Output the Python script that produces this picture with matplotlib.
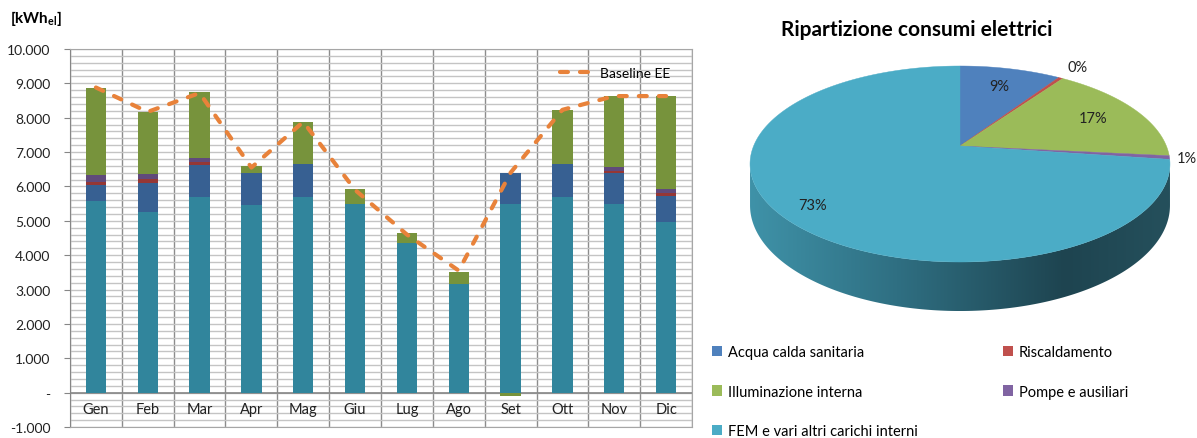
import numpy as np
import matplotlib
matplotlib.use('Agg')
import matplotlib.pyplot as plt
from matplotlib.patches import Polygon, Patch
from matplotlib.colors import LinearSegmentedColormap

plt.rcParams['font.family'] = ['Lato', 'DejaVu Sans']
plt.rcParams['mathtext.fontset'] = 'custom'
plt.rcParams['mathtext.rm'] = 'Lato'
plt.rcParams['mathtext.bf'] = 'Lato:bold'

# dati grafico a barre (kWh el mensili)
mesi = ['Gen', 'Feb', 'Mar', 'Apr', 'Mag', 'Giu', 'Lug', 'Ago', 'Set', 'Ott', 'Nov', 'Dic']
fem = [5580, 5270, 5690, 5470, 5690, 5480, 4360, 3150, 5480, 5700, 5480, 4970]
acqua_calda = [465, 830, 945, 920, 955, 0, 0, 0, 905, 945, 905, 755]
riscaldamento = [85, 110, 75, 0, 0, 0, 0, 0, 0, 0, 70, 70]
pompe = [195, 165, 110, 0, 0, 0, 0, 0, 0, 0, 115, 135]
illuminazione = [2530, 1795, 1925, 195, 1225, 435, 275, 360, -100, 1575, 2060, 2700]
baseline_ee = [8880, 8170, 8720, 6550, 7880, 5900, 4600, 3550, 6400, 8230, 8630, 8630]

# dati grafico a torta (%)
voci_torta = ['Acqua calda sanitaria', 'Riscaldamento', 'Illuminazione interna',
              'Pompe e ausiliari', 'FEM e vari altri carichi interni']
quote_torta = [9.3, 0.4, 16.9, 0.6, 72.8]

colori_barre = ['#31859C', '#376092', '#953735', '#604A7B', '#77933C']
colori_torta = ['#4F81BD', '#C0504D', '#9BBB59', '#8064A2', '#4BACC6']

W, H = 1197, 439


def fmt_it(v, pos=None):
    if abs(v) < 1e-9:
        return '-'
    return f'{v:,.0f}'.replace(',', '.')


def plot_barre(fig):
    ax = fig.add_axes([70 / W, 11 / H, 622 / W, 378 / H])
    x = np.arange(len(mesi))
    serie = [fem, acqua_calda, riscaldamento, pompe, illuminazione]
    pos_bottom = np.zeros(len(mesi))
    neg_bottom = np.zeros(len(mesi))
    for vals, col in zip(serie, colori_barre):
        vals = np.array(vals, dtype=float)
        bottom = np.where(vals >= 0, pos_bottom, neg_bottom)
        ax.bar(x, vals, width=0.39, bottom=bottom, color=col, zorder=3)
        pos_bottom += np.clip(vals, 0, None)
        neg_bottom += np.clip(vals, None, 0)

    ax.plot(x, baseline_ee, color='#E8823A', lw=3, dashes=(1.9, 2.9),
            dash_capstyle='round', label='Baseline EE', zorder=4)

    ax.set_xlim(-0.5, 11.5)
    ax.set_ylim(-1000, 10000)
    ax.set_yticks(np.arange(-1000, 10001, 1000))
    ax.set_yticks(np.arange(-1000, 10001, 200), minor=True)
    ax.yaxis.set_major_formatter(plt.FuncFormatter(fmt_it))
    ax.set_xticks(np.arange(-0.5, 12, 1))
    ax.set_xticklabels([])
    ax.tick_params(axis='x', length=0)
    ax.tick_params(axis='y', which='major', length=4, color='#868686',
                   labelsize=10, labelcolor='#222222', pad=10)
    ax.tick_params(axis='y', which='minor', length=0)
    ax.grid(axis='y', which='both', color='#C4C4C4', lw=1, zorder=0)
    ax.grid(axis='x', which='major', color='#8C8C8C', lw=1, zorder=0)
    ax.axhline(0, color='#868686', lw=1.2, zorder=2)
    for s in ax.spines.values():
        s.set_color('#A6A6A6')
    ax.spines['left'].set_color('#868686')

    for i, m in enumerate(mesi):
        ax.text(i, -480, m, ha='center', va='center', fontsize=10.5, color='#222222')

    ax.legend(loc='upper right', bbox_to_anchor=(0.985, 0.985), frameon=False,
              fontsize=10, handlelength=2.1, handletextpad=0.8)

    fig.text(10 / W, 1 - 18 / H, r'[kWh$_{\mathbf{el}}$]', fontsize=11,
             fontweight='bold', va='center')


def proietta(r, theta, cx=960, cy=147, a=94.7, b=206.4, k=0.1837):
    # proiezione prospettica del disco (theta da ore 12 in senso orario)
    s, c = np.sin(theta), np.cos(theta)
    den = 1 + k * r * c
    return cx + b * r * s / den, cy - a * r * c / den


def plot_torta(fig):
    ax = fig.add_axes([700 / W, 0, 497 / W, 1])
    ax.set_xlim(700, W)
    ax.set_ylim(H, 0)
    ax.axis('off')

    spessore = 40
    k = 0.1837
    # fianco del disco
    t0 = np.arccos(-k)
    t = np.linspace(t0, 2 * np.pi - t0, 200)
    xs, ys = proietta(1, t)
    d = spessore / (1 + k * np.cos(t))
    pts = np.vstack([np.column_stack([xs, ys]), np.column_stack([xs[::-1], (ys + d)[::-1]])])
    fianco = Polygon(pts, closed=True, facecolor='none', edgecolor='none')
    ax.add_patch(fianco)
    cmap = LinearSegmentedColormap.from_list('fianco', [(0, '#3F92A8'), (0.35, '#2F6F82'),
                                                        (0.75, '#1E4450'), (1, '#25505C')])
    grad = np.linspace(0, 1, 256).reshape(1, -1)
    im = ax.imshow(grad, cmap=cmap, extent=[xs.min(), xs.max(), (ys + d).max(), ys.min()],
                   aspect='auto', zorder=1)
    im.set_clip_path(fianco)

    # spicchi superiori
    tot = sum(quote_torta)
    inizio = 0.0
    raggi_etichette = [0.75, 1.2, 0.75, 1.08, 0.85]
    for q, col, rl in zip(quote_torta, colori_torta, raggi_etichette):
        a0 = inizio / tot * 2 * np.pi
        a1 = (inizio + q) / tot * 2 * np.pi
        tt = np.linspace(a0, a1, max(int(q * 4), 3))
        px, py = proietta(1, tt)
        cx0, cy0 = proietta(0, 0)
        poly = np.vstack([[cx0, cy0], np.column_stack([px, py])])
        ax.add_patch(Polygon(poly, closed=True, facecolor=col, edgecolor=col, lw=0.3, zorder=2))
        lx, ly = proietta(rl, (a0 + a1) / 2)
        ax.text(lx, ly, f'{round(q / tot * 100):.0f}%', ha='center', va='center',
                fontsize=10.5, color='#222222', zorder=3)
        inizio += q

    ax.text(917, 30, 'Ripartizione consumi elettrici', ha='center', va='center',
            fontsize=15, fontweight='bold')

    handles = [Patch(facecolor=c) for c in colori_torta]
    ordine = [0, 2, 4, 1, 3]
    fig.legend([handles[i] for i in ordine], [voci_torta[i] for i in ordine],
               loc='upper left', bbox_to_anchor=(712 / W, 1 - 346 / H), ncol=2,
               frameon=False, fontsize=10.5, handlelength=0.7, handleheight=0.7,
               handletextpad=0.4, labelspacing=1.75, columnspacing=5.8,
               borderaxespad=0, borderpad=0)


def main():
    fig = plt.figure(figsize=(W / 100, H / 100), dpi=100)
    plot_barre(fig)
    plot_torta(fig)
    fig.savefig('out.png', dpi=100)


if __name__ == '__main__':
    main()
